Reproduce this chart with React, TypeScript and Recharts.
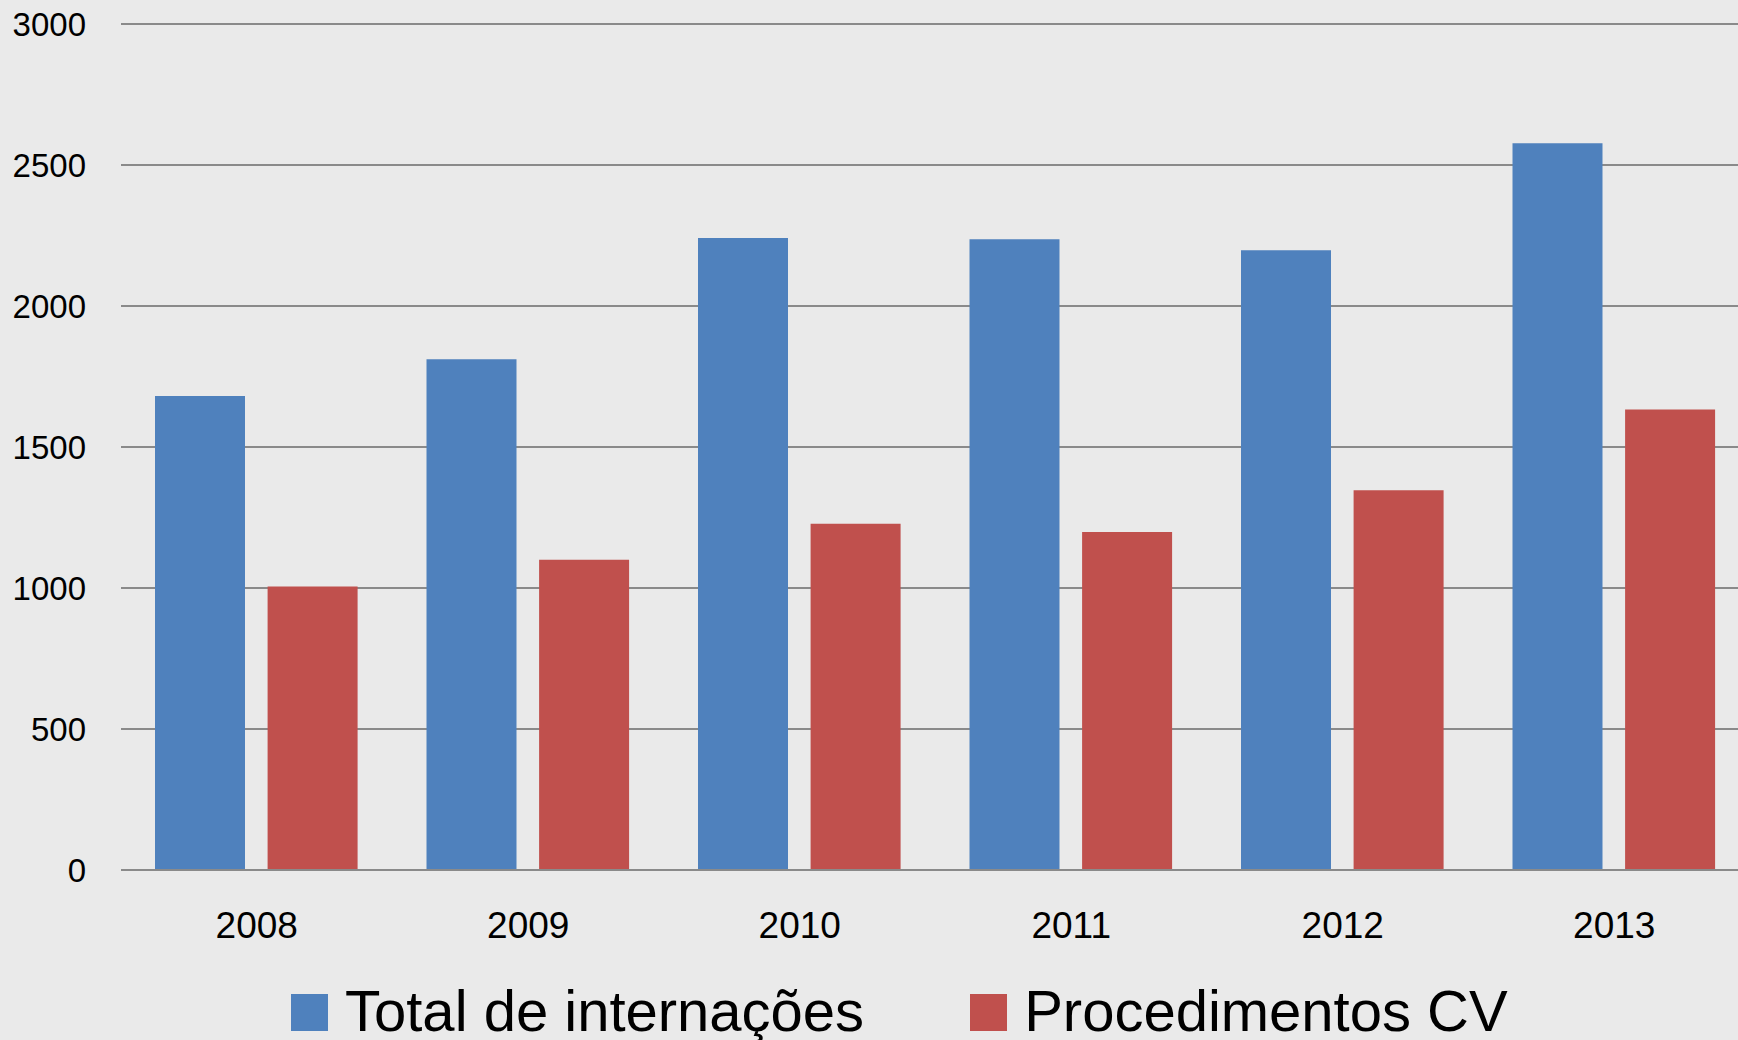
import React from 'react';
import { BarChart, Bar, XAxis, YAxis, CartesianGrid, Legend } from 'recharts';

const years = ['2008', '2009', '2010', '2011', '2012', '2013'];
const totalInternacoes = [1681, 1811, 2241, 2237, 2198, 2577];
const procedimentosCV = [1005, 1100, 1228, 1199, 1347, 1633];
const yTicks = [0, 500, 1000, 1500, 2000, 2500, 3000];
const seriesNames = ['Total de internações', 'Procedimentos CV'];
const seriesColors = ['#4F81BD', '#C0504D'];

const data = years.map((year, i) => ({
  year,
  total: totalInternacoes[i],
  proc: procedimentosCV[i],
}));

const FONT = '"Liberation Sans", Arial, sans-serif';

const renderLegend = (props: any) => {
  const payload = [...(props.payload || [])].sort(
    (a: any, b: any) => seriesNames.indexOf(a.value) - seriesNames.indexOf(b.value)
  );
  return (
    <div
      style={{
        display: 'flex',
        alignItems: 'center',
        paddingLeft: 291,
        fontFamily: FONT,
        fontSize: 58,
        lineHeight: '57px',
        color: '#000',
        whiteSpace: 'nowrap',
      }}
    >
      {payload.map((entry: any, i: number) => (
        <div key={i} style={{ display: 'flex', alignItems: 'center', marginRight: 106 }}>
          <span
            style={{
              display: 'inline-block',
              width: 37,
              height: 37,
              background: entry.color,
              marginRight: 17,
            }}
          />
          <span style={{ position: 'relative', top: -2 }}>{entry.value}</span>
        </div>
      ))}
    </div>
  );
};

export default function App() {
  return (
    <div
      style={{
        position: 'fixed',
        top: 0,
        left: 0,
        width: 1738,
        height: 1040,
        overflow: 'hidden',
        background: '#eaeaea',
      }}
    >
      <BarChart
        width={1750}
        height={1040}
        data={data}
        margin={{ top: 24, right: 0, bottom: 110, left: 0 }}
        barSize={90}
        barGap={22.6}
      >
        <CartesianGrid vertical={false} stroke="#8a8a8a" strokeWidth={2} />
        <XAxis
          dataKey="year"
          height={60}
          tickLine={false}
          tickSize={0}
          tickMargin={42}
          axisLine={{ stroke: '#8a8a8a', strokeWidth: 2 }}
          tick={{ fill: '#000', fontSize: 37, fontFamily: FONT }}
        />
        <YAxis
          width={121}
          domain={[0, 3000]}
          ticks={yTicks}
          tickLine={false}
          tickSize={0}
          tickMargin={35}
          axisLine={false}
          tick={{ fill: '#000', fontSize: 33, fontFamily: FONT }}
        />
        <Legend
          layout="horizontal"
          verticalAlign="middle"
          align="center"
          content={renderLegend}
          wrapperStyle={{ position: 'absolute', top: 984, left: 0, width: 1738, height: 57 }}
        />
        <Bar dataKey="total" name={seriesNames[0]} fill={seriesColors[0]} isAnimationActive={false} />
        <Bar dataKey="proc" name={seriesNames[1]} fill={seriesColors[1]} isAnimationActive={false} />
      </BarChart>
    </div>
  );
}
